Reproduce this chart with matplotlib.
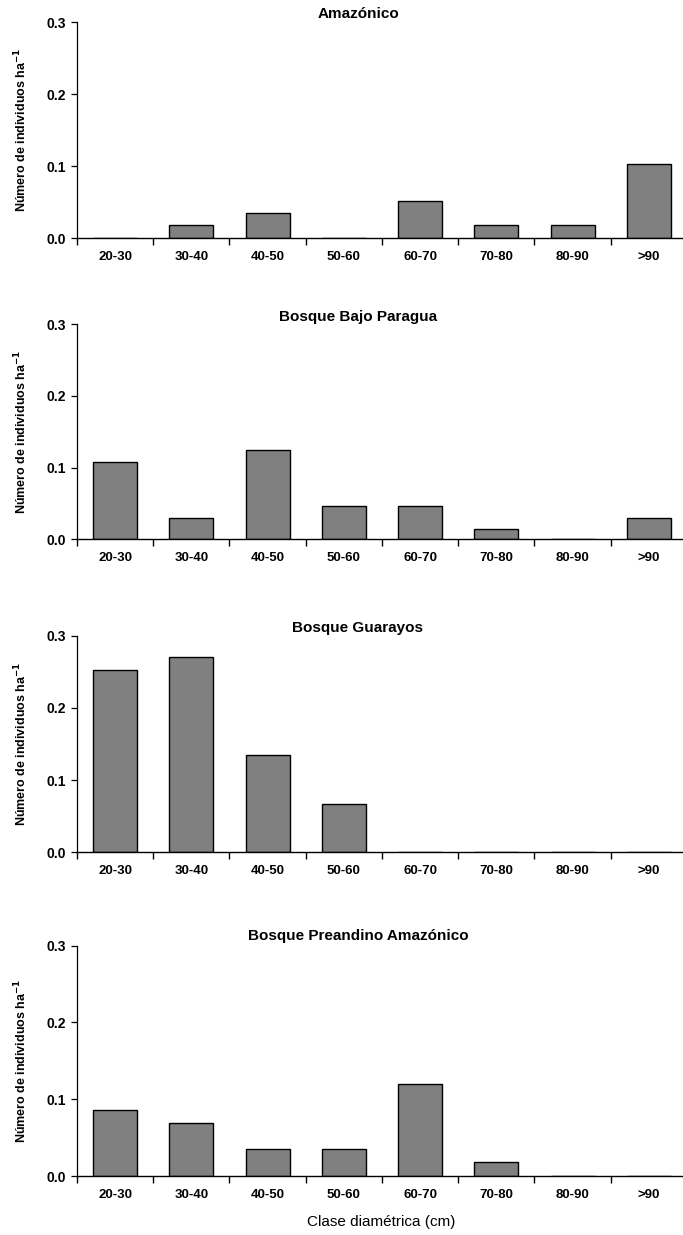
import matplotlib
matplotlib.use("Agg")
import matplotlib.pyplot as plt
from matplotlib import font_manager
from matplotlib.ticker import FixedLocator, NullFormatter, FixedFormatter

# Diameter classes and stem density (individuals per hectare) per forest type
clases = ["20-30", "30-40", "40-50", "50-60", "60-70", "70-80", "80-90", ">90"]

titulos = ["Amazónico", "Bosque Bajo Paragua", "Bosque Guarayos",
           "Bosque Preandino Amazónico"]

amazonico = [0.0, 0.018, 0.035, 0.0, 0.052, 0.018, 0.018, 0.103]
bajo_paragua = [0.108, 0.030, 0.124, 0.046, 0.046, 0.015, 0.0, 0.030]
guarayos = [0.253, 0.270, 0.135, 0.067, 0.0, 0.0, 0.0, 0.0]
preandino = [0.086, 0.069, 0.035, 0.035, 0.120, 0.018, 0.0, 0.0]

series = [amazonico, bajo_paragua, guarayos, preandino]

yticks = [0.0, 0.1, 0.2, 0.3]
ytick_labels = ["0.0", "0.1", "0.2", "0.3"]

# Pick a narrow sans face when available
available = {f.name for f in font_manager.fontManager.ttflist}
narrow = "Liberation Sans Narrow" if "Liberation Sans Narrow" in available else "Liberation Sans"
plt.rcParams["font.family"] = [narrow, "DejaVu Sans"]

W, H = 683, 1235
fig = plt.figure(figsize=(W / 100, H / 100), dpi=100)

# Panel frames in pixels: (top, bottom)
frames = [(22, 238), (324, 539.3), (635.7, 852.3), (945.7, 1176)]
x_left, x_right = 77.0, 687.0
title_y = [14, 317, 628, 936]

for k, (vals, titulo, (top, bot)) in enumerate(zip(series, titulos, frames)):
    ax = fig.add_axes([x_left / W, 1 - bot / H, (x_right - x_left) / W, (bot - top) / H])
    pos = [i + 0.5 for i in range(len(clases))]
    ax.bar(pos, vals, width=0.58, color="#808080", edgecolor="black", linewidth=1.0, zorder=2)
    ax.set_xlim(0, len(clases))
    ax.set_ylim(0, 0.3)
    for s in ("top", "right"):
        ax.spines[s].set_visible(False)
    ax.spines["left"].set_linewidth(0.9)
    ax.spines["bottom"].set_linewidth(1.0)
    ax.spines["bottom"].set_zorder(3)

    ax.xaxis.set_major_locator(FixedLocator(list(range(len(clases)))))
    ax.xaxis.set_major_formatter(NullFormatter())
    ax.xaxis.set_minor_locator(FixedLocator(pos))
    ax.xaxis.set_minor_formatter(FixedFormatter(clases))
    ax.tick_params(axis="x", which="major", direction="out", length=5, width=1.0)
    ax.tick_params(axis="x", which="minor", length=0, pad=9, labelsize=9.5)
    for lab in ax.get_xticklabels(minor=True):
        lab.set_fontweight("bold")

    ax.set_yticks(yticks)
    ax.set_yticklabels(ytick_labels, fontsize=10, fontweight="bold")
    ax.tick_params(axis="y", direction="out", length=4, width=0.9, pad=4)

    ax.set_ylabel("Número de individuos ha$^{\\mathbf{-1}}$", fontsize=9,
                  fontweight="bold", labelpad=12)

    fig.text(358 / W, 1 - title_y[k] / H, titulo, ha="center", va="center",
             fontsize=11, fontweight="bold")

fig.text(381 / W, 1 - 1222 / H, "Clase diamétrica (cm)", ha="center", va="center",
         fontsize=11)

fig.savefig("out.png", dpi=100, facecolor="white")
